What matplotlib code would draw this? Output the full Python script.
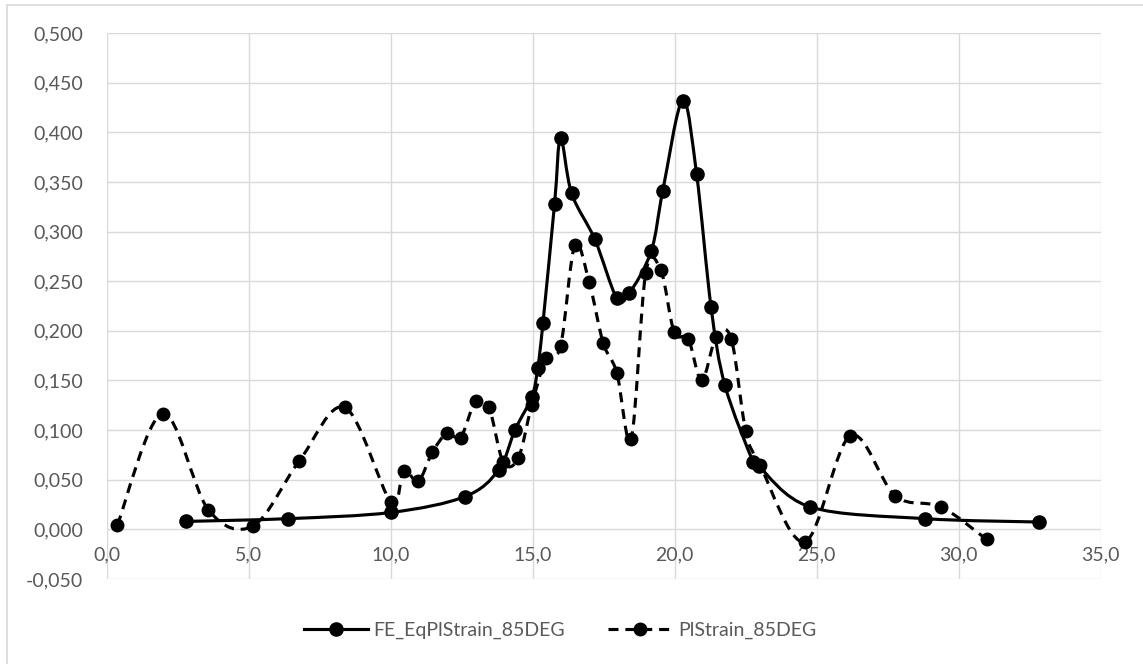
import numpy as np
import matplotlib
matplotlib.use("Agg")
import matplotlib.pyplot as plt
from matplotlib.path import Path
from matplotlib.patches import PathPatch
from matplotlib.lines import Line2D

# FE_EqPlStrain_85DEG (solid)
fe_x = [2.78, 6.40, 10.0, 12.61, 13.80, 14.38, 14.97, 15.18, 15.36, 15.77, 15.98, 16.37,
        17.19, 17.96, 18.40, 19.17, 19.58, 20.28, 20.77, 21.28, 21.77, 22.77, 22.96,
        24.77, 28.80, 32.81]
fe_y = [0.008, 0.0108, 0.017, 0.033, 0.060, 0.1005, 0.1335, 0.163, 0.2075, 0.328, 0.394, 0.3385,
        0.292, 0.233, 0.238, 0.280, 0.341, 0.432, 0.358, 0.224, 0.145, 0.0674, 0.0634,
        0.0226, 0.0108, 0.0074]

# PlStrain_85DEG (dashed)
pl_x = [0.375, 1.97, 3.58, 5.16, 6.78, 8.39, 10.0, 10.46, 10.97, 11.47, 11.99, 12.46, 12.99,
        13.46, 13.96, 14.49, 14.97, 15.48, 15.98, 16.48, 16.99, 17.48, 17.96, 18.47, 18.98,
        19.51, 19.98, 20.48, 20.95, 21.46, 21.99, 22.50, 23.0, 24.59, 26.19, 27.77, 29.38, 30.98]
pl_y = [0.0043, 0.1167, 0.0197, 0.0036, 0.0689, 0.1228, 0.028, 0.0592, 0.0485, 0.0779, 0.097,
        0.0925, 0.129, 0.1228, 0.068, 0.0718, 0.1256, 0.173, 0.1845, 0.286, 0.249, 0.188, 0.158,
        0.0915, 0.2585, 0.261, 0.199, 0.1915, 0.150, 0.194, 0.192, 0.0994, 0.065, -0.0125,
        0.0944, 0.0337, 0.0226, -0.0101]

labels = ["FE_EqPlStrain_85DEG", "PlStrain_85DEG"]
x_ticks = np.arange(0, 35.01, 5)
y_ticks = np.arange(-0.05, 0.5001, 0.05)

FONT = ["Lato", "DejaVu Sans"]
TXT = "#595959"
GRID = "#d9d9d9"


def smooth_path(xs, ys):
    # Excel-like smoothed line: cubic Bezier through points (Catmull-Rom, tension 1/6)
    p = np.column_stack([xs, ys])
    n = len(p)
    verts = [p[0]]
    codes = [Path.MOVETO]
    for i in range(n - 1):
        p0 = p[i - 1] if i > 0 else p[i]
        p1, p2 = p[i], p[i + 1]
        p3 = p[i + 2] if i + 2 < n else p[i + 1]
        verts += [p1 + (p2 - p0) / 6, p2 - (p3 - p1) / 6, p2]
        codes += [Path.CURVE4] * 3
    return Path(verts, codes)


fig = plt.figure(figsize=(11.43, 6.64), dpi=100)
ax = fig.add_axes([106.7 / 1143, 1 - 579 / 664, 994 / 1143, 546 / 664])

ax.add_patch(PathPatch(smooth_path(fe_x, fe_y), fill=False, ec="black", lw=2.25,
                       capstyle="round", joinstyle="round", zorder=3))
ax.add_patch(PathPatch(smooth_path(pl_x, pl_y), fill=False, ec="black", lw=2.25,
                       linestyle=(0, (3.2, 2.2)), capstyle="butt", zorder=3))
ax.plot(fe_x, fe_y, "o", color="black", ms=9.5, ls="none", zorder=4)
ax.plot(pl_x, pl_y, "o", color="black", ms=9, ls="none", zorder=4)

ax.set_xlim(0, 35)
ax.set_ylim(-0.05, 0.5)
ax.set_xticks(x_ticks)
ax.set_yticks(y_ticks)
ax.set_xticklabels([f"{v:.1f}".replace(".", ",") for v in x_ticks])
ax.set_yticklabels([f"{v:.3f}".replace(".", ",").replace("-0,000", "0,000") for v in y_ticks])
ax.grid(True, color=GRID, lw=1.0)
ax.set_axisbelow(True)
for s in ax.spines.values():
    s.set_visible(False)
ax.spines["bottom"].set_position(("data", 0))
ax.tick_params(axis="both", length=0, colors=TXT, labelsize=14)
ax.tick_params(axis="y", pad=17)
ax.tick_params(axis="x", pad=12)
for t in ax.get_xticklabels() + ax.get_yticklabels():
    t.set_family(FONT)

handles = [Line2D([], [], color="black", lw=2.25, marker="o", ms=9.5),
           Line2D([], [], color="black", lw=2.25, ls=(0, (3.2, 2.2)), marker="o", ms=9)]
leg = fig.legend(handles, labels, loc="center", bbox_to_anchor=(0.49, 0.050), ncol=2,
                 frameon=False, handlelength=3.3, columnspacing=2.2, handletextpad=0.3,
                 prop={"family": FONT, "size": 14})
for t in leg.get_texts():
    t.set_color(TXT)

# chart area border (top and left edges visible)
fig.add_artist(Line2D([7 / 1143, 1], [1 - 5 / 664, 1 - 5 / 664], color=GRID, lw=1.2))
fig.add_artist(Line2D([7 / 1143, 7 / 1143], [0, 1 - 5 / 664], color=GRID, lw=1.2))

fig.savefig("out.png", dpi=100)
